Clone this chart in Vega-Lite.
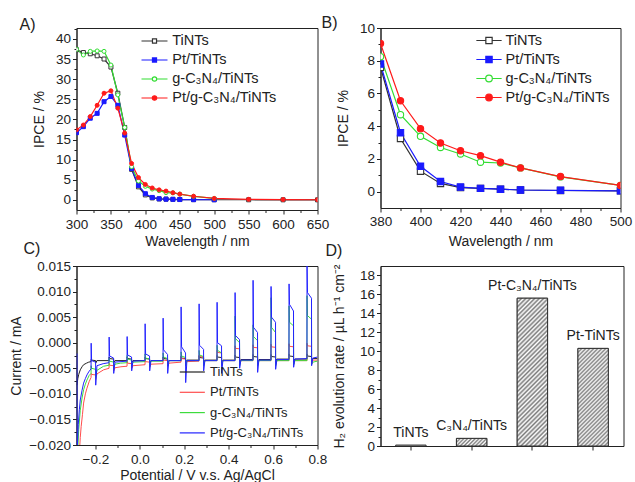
{
"$schema": "https://vega.github.io/schema/vega-lite/v6.json",
"background": "white",
"padding": {"left": 8.5, "top": 14, "right": 0, "bottom": 0},
"config": {
  "font": "Liberation Sans",
  "view": {"stroke": "#222", "strokeWidth": 1},
  "axis": {"domainColor": "#222", "tickColor": "#222", "labelColor": "#222", "titleColor": "#222", "labelFontSize": 13.5, "titleFontSize": 14, "titleFontWeight": "normal", "tickSize": 4, "labelPadding": 2, "grid": false, "labelFlush": false, "labelOverlap": false},
  "legend": {"labelFontSize": 14, "labelColor": "#222", "padding": 0, "rowPadding": 3},
  "title": {"fontSize": 16, "fontWeight": "normal", "color": "#222", "anchor": "start", "frame": "group"}
},
"datasets": {
  "ipce": [
    {"s":"T","w":300,"y":37.3},{"s":"T","w":310,"y":36.6},{"s":"T","w":320,"y":36.3},{"s":"T","w":330,"y":35.8},{"s":"T","w":340,"y":35.0},{"s":"T","w":350,"y":33.0},{"s":"T","w":360,"y":26.5},{"s":"T","w":370,"y":18.0},{"s":"T","w":380,"y":7.6},{"s":"T","w":390,"y":3.25},{"s":"T","w":400,"y":1.25},{"s":"T","w":410,"y":0.5},{"s":"T","w":420,"y":0.25},{"s":"T","w":430,"y":0.2},{"s":"T","w":440,"y":0.15},{"s":"T","w":450,"y":0.1},{"s":"T","w":470,"y":0.07},{"s":"T","w":500,"y":0.05},{"s":"T","w":550,"y":0.04},{"s":"T","w":600,"y":0.03},{"s":"T","w":650,"y":0.02},
    {"s":"P","w":300,"y":16.7},{"s":"P","w":310,"y":18.2},{"s":"P","w":320,"y":20.3},{"s":"P","w":330,"y":21.5},{"s":"P","w":340,"y":24.4},{"s":"P","w":350,"y":25.7},{"s":"P","w":360,"y":23.5},{"s":"P","w":370,"y":16.1},{"s":"P","w":380,"y":7.8},{"s":"P","w":390,"y":3.6},{"s":"P","w":400,"y":1.55},{"s":"P","w":410,"y":0.62},{"s":"P","w":420,"y":0.28},{"s":"P","w":430,"y":0.2},{"s":"P","w":440,"y":0.15},{"s":"P","w":450,"y":0.1},{"s":"P","w":470,"y":0.08},{"s":"P","w":500,"y":0.05},
    {"s":"G","w":300,"y":37.4},{"s":"G","w":310,"y":36.0},{"s":"G","w":320,"y":36.9},{"s":"G","w":330,"y":37.0},{"s":"G","w":340,"y":36.9},{"s":"G","w":350,"y":33.5},{"s":"G","w":360,"y":26.1},{"s":"G","w":370,"y":18.0},{"s":"G","w":380,"y":8.25},{"s":"G","w":390,"y":4.7},{"s":"G","w":400,"y":3.38},{"s":"G","w":410,"y":2.7},{"s":"G","w":420,"y":2.3},{"s":"G","w":430,"y":1.8},{"s":"G","w":440,"y":1.75},{"s":"G","w":450,"y":1.45},{"s":"G","w":470,"y":0.9},{"s":"G","w":500,"y":0.38},
    {"s":"PG","w":300,"y":17.4},{"s":"PG","w":310,"y":18.6},{"s":"PG","w":320,"y":20.7},{"s":"PG","w":330,"y":23.5},{"s":"PG","w":340,"y":26.5},{"s":"PG","w":350,"y":27.1},{"s":"PG","w":360,"y":22.8},{"s":"PG","w":370,"y":16.6},{"s":"PG","w":380,"y":9.05},{"s":"PG","w":390,"y":5.55},{"s":"PG","w":400,"y":3.85},{"s":"PG","w":410,"y":2.97},{"s":"PG","w":420,"y":2.5},{"s":"PG","w":430,"y":2.2},{"s":"PG","w":440,"y":1.8},{"s":"PG","w":450,"y":1.45},{"s":"PG","w":470,"y":0.92},{"s":"PG","w":500,"y":0.38},{"s":"PG","w":550,"y":0.15},{"s":"PG","w":600,"y":0.1},{"s":"PG","w":650,"y":0.05}
  ],
  "cur": [
    {"s":"T","v":-0.283,"c":-0.0083},{"s":"T","v":-0.279,"c":-0.007},{"s":"T","v":-0.275,"c":-0.0062},{"s":"T","v":-0.268,"c":-0.0053},{"s":"T","v":-0.26,"c":-0.0047},{"s":"T","v":-0.253,"c":-0.0043},{"s":"T","v":-0.24,"c":-0.004},{"s":"T","v":-0.23,"c":-0.0038},
    {"s":"T","v":-0.2195,"c":-0.0037},{"s":"T","v":-0.219,"c":-0.0033},{"s":"T","v":-0.217,"c":-0.0034},{"s":"T","v":-0.199,"c":-0.0035},{"s":"T","v":-0.1985,"c":-0.004},{"s":"T","v":-0.193,"c":-0.0035},
    {"s":"T","v":-0.1385,"c":-0.0035},{"s":"T","v":-0.138,"c":-0.0028},{"s":"T","v":-0.136,"c":-0.0031},{"s":"T","v":-0.118,"c":-0.0032},{"s":"T","v":-0.1175,"c":-0.0039},{"s":"T","v":-0.112,"c":-0.0035},
    {"s":"T","v":-0.0575,"c":-0.0035},{"s":"T","v":-0.057,"c":-0.0028},{"s":"T","v":-0.055,"c":-0.0031},{"s":"T","v":-0.037,"c":-0.0032},{"s":"T","v":-0.0365,"c":-0.0039},{"s":"T","v":-0.031,"c":-0.0035},
    {"s":"T","v":0.0235,"c":-0.0035},{"s":"T","v":0.024,"c":-0.0028},{"s":"T","v":0.026,"c":-0.0031},{"s":"T","v":0.044,"c":-0.0032},{"s":"T","v":0.0445,"c":-0.0039},{"s":"T","v":0.05,"c":-0.0035},
    {"s":"T","v":0.1045,"c":-0.0035},{"s":"T","v":0.105,"c":-0.0028},{"s":"T","v":0.107,"c":-0.0031},{"s":"T","v":0.125,"c":-0.0032},{"s":"T","v":0.1255,"c":-0.0039},{"s":"T","v":0.131,"c":-0.0035},
    {"s":"T","v":0.1855,"c":-0.0035},{"s":"T","v":0.186,"c":-0.0027},{"s":"T","v":0.188,"c":-0.003},{"s":"T","v":0.206,"c":-0.0031},{"s":"T","v":0.2065,"c":-0.0039},{"s":"T","v":0.212,"c":-0.0034},
    {"s":"T","v":0.2665,"c":-0.0034},{"s":"T","v":0.267,"c":-0.0026},{"s":"T","v":0.269,"c":-0.0029},{"s":"T","v":0.287,"c":-0.003},{"s":"T","v":0.2875,"c":-0.0038},{"s":"T","v":0.293,"c":-0.0034},
    {"s":"T","v":0.3475,"c":-0.0034},{"s":"T","v":0.348,"c":-0.0025},{"s":"T","v":0.35,"c":-0.0028},{"s":"T","v":0.368,"c":-0.0029},{"s":"T","v":0.3685,"c":-0.0038},{"s":"T","v":0.374,"c":-0.0034},
    {"s":"T","v":0.4285,"c":-0.0034},{"s":"T","v":0.429,"c":-0.0024},{"s":"T","v":0.431,"c":-0.0028},{"s":"T","v":0.449,"c":-0.0029},{"s":"T","v":0.4495,"c":-0.0037},{"s":"T","v":0.455,"c":-0.0033},
    {"s":"T","v":0.5095,"c":-0.0033},{"s":"T","v":0.51,"c":-0.0023},{"s":"T","v":0.512,"c":-0.0027},{"s":"T","v":0.53,"c":-0.0028},{"s":"T","v":0.5305,"c":-0.0037},{"s":"T","v":0.536,"c":-0.0033},
    {"s":"T","v":0.5905,"c":-0.0033},{"s":"T","v":0.591,"c":-0.0023},{"s":"T","v":0.593,"c":-0.0027},{"s":"T","v":0.611,"c":-0.0028},{"s":"T","v":0.6115,"c":-0.0036},{"s":"T","v":0.617,"c":-0.0032},
    {"s":"T","v":0.6715,"c":-0.0032},{"s":"T","v":0.672,"c":-0.0022},{"s":"T","v":0.674,"c":-0.0026},{"s":"T","v":0.692,"c":-0.0027},{"s":"T","v":0.6925,"c":-0.0036},{"s":"T","v":0.698,"c":-0.0032},
    {"s":"T","v":0.7525,"c":-0.0032},{"s":"T","v":0.753,"c":-0.0022},{"s":"T","v":0.755,"c":-0.0026},{"s":"T","v":0.773,"c":-0.0027},{"s":"T","v":0.7735,"c":-0.0035},{"s":"T","v":0.779,"c":-0.0031},{"s":"T","v":0.8,"c":-0.0031},

    {"s":"P","v":-0.272,"c":-0.0215},{"s":"P","v":-0.268,"c":-0.0185},{"s":"P","v":-0.264,"c":-0.0164},{"s":"P","v":-0.258,"c":-0.014},{"s":"P","v":-0.253,"c":-0.0118},{"s":"P","v":-0.245,"c":-0.01},{"s":"P","v":-0.238,"c":-0.0089},{"s":"P","v":-0.228,"c":-0.0076},
    {"s":"P","v":-0.2195,"c":-0.0068},{"s":"P","v":-0.219,"c":-0.006},{"s":"P","v":-0.217,"c":-0.0062},{"s":"P","v":-0.199,"c":-0.0063},{"s":"P","v":-0.1985,"c":-0.0072},{"s":"P","v":-0.193,"c":-0.0061},{"s":"P","v":-0.163,"c":-0.0053},
    {"s":"P","v":-0.1385,"c":-0.005},{"s":"P","v":-0.138,"c":-0.004},{"s":"P","v":-0.136,"c":-0.0044},{"s":"P","v":-0.118,"c":-0.0045},{"s":"P","v":-0.1175,"c":-0.0055},{"s":"P","v":-0.112,"c":-0.0049},{"s":"P","v":-0.085,"c":-0.0047},
    {"s":"P","v":-0.0575,"c":-0.0046},{"s":"P","v":-0.057,"c":-0.0036},{"s":"P","v":-0.055,"c":-0.004},{"s":"P","v":-0.037,"c":-0.0041},{"s":"P","v":-0.0365,"c":-0.005},{"s":"P","v":-0.031,"c":-0.0045},
    {"s":"P","v":0.0235,"c":-0.0043},{"s":"P","v":0.024,"c":-0.0033},{"s":"P","v":0.026,"c":-0.0037},{"s":"P","v":0.044,"c":-0.0038},{"s":"P","v":0.0445,"c":-0.0048},{"s":"P","v":0.05,"c":-0.0042},
    {"s":"P","v":0.1045,"c":-0.0041},{"s":"P","v":0.105,"c":-0.003},{"s":"P","v":0.107,"c":-0.0034},{"s":"P","v":0.125,"c":-0.0035},{"s":"P","v":0.1255,"c":-0.0046},{"s":"P","v":0.131,"c":-0.004},
    {"s":"P","v":0.1855,"c":-0.0038},{"s":"P","v":0.186,"c":-0.0027},{"s":"P","v":0.188,"c":-0.0031},{"s":"P","v":0.206,"c":-0.0032},{"s":"P","v":0.2065,"c":-0.0044},{"s":"P","v":0.212,"c":-0.0037},
    {"s":"P","v":0.2665,"c":-0.0036},{"s":"P","v":0.267,"c":-0.0024},{"s":"P","v":0.269,"c":-0.0027},{"s":"P","v":0.287,"c":-0.0028},{"s":"P","v":0.2875,"c":-0.0042},{"s":"P","v":0.293,"c":-0.0035},
    {"s":"P","v":0.3475,"c":-0.0035},{"s":"P","v":0.348,"c":-0.0015},{"s":"P","v":0.35,"c":-0.0019},{"s":"P","v":0.368,"c":-0.002},{"s":"P","v":0.3685,"c":-0.0042},{"s":"P","v":0.374,"c":-0.0035},
    {"s":"P","v":0.4285,"c":-0.0035},{"s":"P","v":0.429,"c":-0.0006},{"s":"P","v":0.431,"c":-0.0011},{"s":"P","v":0.449,"c":-0.0012},{"s":"P","v":0.4495,"c":-0.0042},{"s":"P","v":0.455,"c":-0.0035},
    {"s":"P","v":0.5095,"c":-0.0035},{"s":"P","v":0.51,"c":-0.0004},{"s":"P","v":0.512,"c":-0.0009},{"s":"P","v":0.53,"c":-0.001},{"s":"P","v":0.5305,"c":-0.0042},{"s":"P","v":0.536,"c":-0.0035},
    {"s":"P","v":0.5905,"c":-0.0035},{"s":"P","v":0.591,"c":-0.0003},{"s":"P","v":0.593,"c":-0.0008},{"s":"P","v":0.611,"c":-0.0009},{"s":"P","v":0.6115,"c":-0.0042},{"s":"P","v":0.617,"c":-0.0035},
    {"s":"P","v":0.6715,"c":-0.0035},{"s":"P","v":0.672,"c":-0.0002},{"s":"P","v":0.674,"c":-0.0007},{"s":"P","v":0.692,"c":-0.0008},{"s":"P","v":0.6925,"c":-0.0042},{"s":"P","v":0.698,"c":-0.0035},
    {"s":"P","v":0.7525,"c":-0.0035},{"s":"P","v":0.753,"c":-0.0001},{"s":"P","v":0.755,"c":-0.0006},{"s":"P","v":0.773,"c":-0.0007},{"s":"P","v":0.7735,"c":-0.0042},{"s":"P","v":0.779,"c":-0.0034},{"s":"P","v":0.8,"c":-0.0034},

    {"s":"G","v":-0.28,"c":-0.0215},{"s":"G","v":-0.275,"c":-0.017},{"s":"G","v":-0.268,"c":-0.0132},{"s":"G","v":-0.26,"c":-0.0108},{"s":"G","v":-0.253,"c":-0.0092},{"s":"G","v":-0.245,"c":-0.0081},{"s":"G","v":-0.238,"c":-0.0073},{"s":"G","v":-0.228,"c":-0.0064},
    {"s":"G","v":-0.2195,"c":-0.006},{"s":"G","v":-0.219,"c":-0.0045},{"s":"G","v":-0.217,"c":-0.005},{"s":"G","v":-0.199,"c":-0.0052},{"s":"G","v":-0.1985,"c":-0.0068},{"s":"G","v":-0.193,"c":-0.0054},{"s":"G","v":-0.163,"c":-0.0046},
    {"s":"G","v":-0.1385,"c":-0.0044},{"s":"G","v":-0.138,"c":-0.003},{"s":"G","v":-0.136,"c":-0.0036},{"s":"G","v":-0.118,"c":-0.0038},{"s":"G","v":-0.1175,"c":-0.005},{"s":"G","v":-0.112,"c":-0.0042},{"s":"G","v":-0.087,"c":-0.004},
    {"s":"G","v":-0.0575,"c":-0.0039},{"s":"G","v":-0.057,"c":-0.0025},{"s":"G","v":-0.055,"c":-0.0032},{"s":"G","v":-0.037,"c":-0.0034},{"s":"G","v":-0.0365,"c":-0.0046},{"s":"G","v":-0.031,"c":-0.0038},
    {"s":"G","v":0.0235,"c":-0.0037},{"s":"G","v":0.024,"c":-0.0022},{"s":"G","v":0.026,"c":-0.003},{"s":"G","v":0.044,"c":-0.0032},{"s":"G","v":0.0445,"c":-0.0045},{"s":"G","v":0.05,"c":-0.0036},
    {"s":"G","v":0.1045,"c":-0.0036},{"s":"G","v":0.105,"c":-0.002},{"s":"G","v":0.107,"c":-0.0028},{"s":"G","v":0.125,"c":-0.0031},{"s":"G","v":0.1255,"c":-0.0045},{"s":"G","v":0.131,"c":-0.0035},
    {"s":"G","v":0.1855,"c":-0.0035},{"s":"G","v":0.186,"c":-0.0018},{"s":"G","v":0.188,"c":-0.0026},{"s":"G","v":0.206,"c":-0.0029},{"s":"G","v":0.2065,"c":-0.0045},{"s":"G","v":0.212,"c":-0.0035},
    {"s":"G","v":0.2665,"c":-0.0035},{"s":"G","v":0.267,"c":-0.0015},{"s":"G","v":0.269,"c":-0.0024},{"s":"G","v":0.287,"c":-0.0027},{"s":"G","v":0.2875,"c":-0.0045},{"s":"G","v":0.293,"c":-0.0035},
    {"s":"G","v":0.3475,"c":-0.0035},{"s":"G","v":0.348,"c":-0.0005},{"s":"G","v":0.35,"c":-0.0015},{"s":"G","v":0.368,"c":-0.002},{"s":"G","v":0.3685,"c":-0.0045},{"s":"G","v":0.374,"c":-0.0035},
    {"s":"G","v":0.4285,"c":-0.0035},{"s":"G","v":0.429,"c":0.0052},{"s":"G","v":0.431,"c":0.0008},{"s":"G","v":0.449,"c":0.0},{"s":"G","v":0.4495,"c":-0.0045},{"s":"G","v":0.455,"c":-0.0035},
    {"s":"G","v":0.5095,"c":-0.0035},{"s":"G","v":0.51,"c":0.0035},{"s":"G","v":0.512,"c":0.0012},{"s":"G","v":0.53,"c":0.0004},{"s":"G","v":0.5305,"c":-0.0045},{"s":"G","v":0.536,"c":-0.0035},
    {"s":"G","v":0.5905,"c":-0.0035},{"s":"G","v":0.591,"c":0.0088},{"s":"G","v":0.593,"c":0.003},{"s":"G","v":0.611,"c":0.002},{"s":"G","v":0.6115,"c":-0.0045},{"s":"G","v":0.617,"c":-0.0035},
    {"s":"G","v":0.6715,"c":-0.0035},{"s":"G","v":0.672,"c":0.0072},{"s":"G","v":0.674,"c":0.004},{"s":"G","v":0.692,"c":0.0033},{"s":"G","v":0.6925,"c":-0.0043},{"s":"G","v":0.698,"c":-0.0035},
    {"s":"G","v":0.7525,"c":-0.0035},{"s":"G","v":0.753,"c":0.0092},{"s":"G","v":0.755,"c":0.0053},{"s":"G","v":0.773,"c":0.0046},{"s":"G","v":0.7735,"c":-0.0042},{"s":"G","v":0.779,"c":-0.0038},{"s":"G","v":0.8,"c":-0.0036},

    {"s":"PG","v":-0.283,"c":-0.0021},{"s":"PG","v":-0.2825,"c":-0.0215},{"s":"PG","v":-0.277,"c":-0.016},{"s":"PG","v":-0.272,"c":-0.013},{"s":"PG","v":-0.268,"c":-0.0112},{"s":"PG","v":-0.26,"c":-0.0093},{"s":"PG","v":-0.253,"c":-0.0079},{"s":"PG","v":-0.245,"c":-0.007},{"s":"PG","v":-0.238,"c":-0.0063},{"s":"PG","v":-0.23,"c":-0.0057},
    {"s":"PG","v":-0.2195,"c":-0.0051},{"s":"PG","v":-0.219,"c":-0.0001},{"s":"PG","v":-0.217,"c":-0.0035},{"s":"PG","v":-0.199,"c":-0.0038},{"s":"PG","v":-0.1985,"c":-0.0083},{"s":"PG","v":-0.193,"c":-0.0045},{"s":"PG","v":-0.165,"c":-0.0041},
    {"s":"PG","v":-0.1385,"c":-0.0039},{"s":"PG","v":-0.138,"c":0.0011},{"s":"PG","v":-0.136,"c":-0.0026},{"s":"PG","v":-0.118,"c":-0.003},{"s":"PG","v":-0.1175,"c":-0.006},{"s":"PG","v":-0.112,"c":-0.0038},
    {"s":"PG","v":-0.0575,"c":-0.0036},{"s":"PG","v":-0.057,"c":0.0012},{"s":"PG","v":-0.055,"c":-0.0024},{"s":"PG","v":-0.037,"c":-0.0028},{"s":"PG","v":-0.0365,"c":-0.0055},{"s":"PG","v":-0.031,"c":-0.0036},
    {"s":"PG","v":0.0235,"c":-0.0035},{"s":"PG","v":0.024,"c":0.0037},{"s":"PG","v":0.026,"c":-0.0022},{"s":"PG","v":0.044,"c":-0.0026},{"s":"PG","v":0.0445,"c":-0.0055},{"s":"PG","v":0.05,"c":-0.0035},
    {"s":"PG","v":0.1045,"c":-0.0035},{"s":"PG","v":0.105,"c":0.0048},{"s":"PG","v":0.107,"c":-0.0014},{"s":"PG","v":0.125,"c":-0.0023},{"s":"PG","v":0.1255,"c":-0.006},{"s":"PG","v":0.131,"c":-0.0035},
    {"s":"PG","v":0.1855,"c":-0.0035},{"s":"PG","v":0.186,"c":0.007},{"s":"PG","v":0.188,"c":-0.0008},{"s":"PG","v":0.206,"c":-0.002},{"s":"PG","v":0.2065,"c":-0.0078},{"s":"PG","v":0.212,"c":-0.0035},
    {"s":"PG","v":0.2665,"c":-0.0035},{"s":"PG","v":0.267,"c":0.0076},{"s":"PG","v":0.269,"c":-0.0005},{"s":"PG","v":0.287,"c":-0.0013},{"s":"PG","v":0.2875,"c":-0.0055},{"s":"PG","v":0.293,"c":-0.0035},
    {"s":"PG","v":0.3475,"c":-0.0035},{"s":"PG","v":0.348,"c":0.0079},{"s":"PG","v":0.35,"c":0.0},{"s":"PG","v":0.368,"c":-0.0006},{"s":"PG","v":0.3685,"c":-0.006},{"s":"PG","v":0.374,"c":-0.0035},
    {"s":"PG","v":0.4285,"c":-0.0035},{"s":"PG","v":0.429,"c":0.0098},{"s":"PG","v":0.431,"c":0.0014},{"s":"PG","v":0.449,"c":0.0006},{"s":"PG","v":0.4495,"c":-0.005},{"s":"PG","v":0.455,"c":-0.0034},
    {"s":"PG","v":0.5095,"c":-0.0034},{"s":"PG","v":0.51,"c":0.0122},{"s":"PG","v":0.512,"c":0.003},{"s":"PG","v":0.53,"c":0.002},{"s":"PG","v":0.5305,"c":-0.0058},{"s":"PG","v":0.536,"c":-0.0034},
    {"s":"PG","v":0.5905,"c":-0.0034},{"s":"PG","v":0.591,"c":0.011},{"s":"PG","v":0.593,"c":0.005},{"s":"PG","v":0.611,"c":0.004},{"s":"PG","v":0.6115,"c":-0.0052},{"s":"PG","v":0.617,"c":-0.0033},
    {"s":"PG","v":0.6715,"c":-0.0033},{"s":"PG","v":0.672,"c":0.0115},{"s":"PG","v":0.674,"c":0.0075},{"s":"PG","v":0.692,"c":0.0062},{"s":"PG","v":0.6925,"c":-0.0048},{"s":"PG","v":0.698,"c":-0.0032},
    {"s":"PG","v":0.7525,"c":-0.0031},{"s":"PG","v":0.753,"c":0.015},{"s":"PG","v":0.755,"c":0.0098},{"s":"PG","v":0.773,"c":0.0087},{"s":"PG","v":0.7735,"c":-0.0045},{"s":"PG","v":0.779,"c":-0.003},{"s":"PG","v":0.8,"c":-0.0028}
  ],
  "h2": [
    {"cat":"TiNTs","rate":0.1},{"cat":"C₃N₄/TiNTs","rate":0.8},{"cat":"Pt-C₃N₄/TiNTs","rate":15.6},{"cat":"Pt-TiNTs","rate":10.3}
  ]
},
"columns": 2,
"bounds": "flush",
"spacing": {"row": 56, "column": 63},
"resolve": {"scale": {"color": "independent", "stroke": "independent", "fill": "independent", "shape": "independent"}, "legend": {"stroke": "independent", "color": "independent"}},
"concat": [
  {
    "width": 241, "height": 182,
    "title": {"text": "A)", "dx": -57, "offset": -27, "baseline": "bottom"},
    "data": {"name": "ipce"},
    "encoding": {
      "x": {"field": "w", "type": "quantitative", "scale": {"domain": [300, 650], "nice": false, "zero": false},
        "axis": {"title": "Wavelength / nm", "values": [300,325,350,375,400,425,450,475,500,525,550,575,600,625,650], "labelExpr": "datum.value % 50 == 0 ? datum.label : ''", "labelPadding": 3, "titleY": 31, "titleBaseline": "middle",
          "encoding": {"ticks": {"y2": {"value": {"expr": "datum.value % 50 == 0 ? 4 : 2.5"}}}}}},
      "y": {"field": "y", "type": "quantitative", "scale": {"domain": [-2.5, 42.7], "nice": false, "zero": false},
        "axis": {"title": "IPCE / %", "values": [0,2.5,5,7.5,10,12.5,15,17.5,20,22.5,25,27.5,30,32.5,35,37.5,40,42.5], "labelExpr": "datum.value % 5 == 0 ? datum.label : ''", "titleX": -37, "titleBaseline": "middle",
          "encoding": {"ticks": {"x2": {"value": {"expr": "datum.value % 5 == 0 ? -4 : -2.5"}}}}}}
    },
    "layer": [
      {"mark": {"type": "line", "strokeWidth": 1.2, "clip": true},
       "encoding": {"color": {"field": "s", "type": "nominal", "sort": ["T","P","G","PG"], "scale": {"range": ["#333333","#1a1aff","#33dd33","#ff1a1a"]}, "legend": null}}},
      {"mark": {"type": "point", "size": 16, "strokeWidth": 1, "opacity": 1, "clip": true},
       "encoding": {
         "stroke": {"field": "s", "type": "nominal", "sort": ["T","P","G","PG"], "scale": {"range": ["#333333","#1a1aff","#33dd33","#ff1a1a"]},
           "legend": {"title": null, "orient": "none", "legendX": 69, "legendY": 4, "symbolSize": 264, "labelOffset": 8.75, "symbolStrokeWidth": 1.2, "labelFontSize": 14.5,
             "labelExpr": "datum.label == 'T' ? 'TiNTs' : datum.label == 'P' ? 'Pt/TiNTs' : datum.label == 'G' ? 'g-C₃N₄/TiNTs' : 'Pt/g-C₃N₄/TiNTs'",
             "encoding": {"symbols": {
               "shape": {"value": {"expr": "datum.value == 'T' || datum.value == 'P' ? 'M-1.6,0H-0.25M0.25,0H1.6M-0.25,-0.25H0.25V0.25H-0.25Z' : 'M-1.6,0H-0.27M0.27,0H1.6M-0.27,0A0.27,0.27,0,1,1,0.27,0A0.27,0.27,0,1,1,-0.27,0Z'"}},
               "fill": {"value": {"expr": "datum.value == 'P' ? '#1a1aff' : datum.value == 'PG' ? '#ff1a1a' : '#ffffff'"}}}}}},
         "fill": {"field": "s", "type": "nominal", "sort": ["T","P","G","PG"], "scale": {"range": ["#ffffff","#1a1aff","#ffffff","#ff1a1a"]}, "legend": null},
         "shape": {"field": "s", "type": "nominal", "sort": ["T","P","G","PG"], "scale": {"range": ["square","square","circle","circle"]}, "legend": null}
       }}
    ]
  },
  {
    "width": 240, "height": 180,
    "title": {"text": "B)", "dx": -59, "offset": -26, "baseline": "bottom"},
    "data": {"name": "ipce"},
    "transform": [{"filter": "datum.w >= 380 && datum.w <= 500"}],
    "encoding": {
      "x": {"field": "w", "type": "quantitative", "scale": {"domain": [380, 500], "nice": false, "zero": false},
        "axis": {"title": "Wavelength / nm", "values": [380,390,400,410,420,430,440,450,460,470,480,490,500], "labelExpr": "datum.value % 20 == 0 ? datum.label : ''", "labelPadding": 2, "titleY": 33, "titleBaseline": "middle",
          "encoding": {"ticks": {"y2": {"value": {"expr": "datum.value % 20 == 0 ? 4 : 2.5"}}}}}},
      "y": {"field": "y", "type": "quantitative", "scale": {"domain": [-1, 10], "nice": false, "zero": false},
        "axis": {"title": "IPCE / %", "values": [0,1,2,3,4,5,6,7,8,9,10], "labelExpr": "datum.value % 2 == 0 ? datum.label : ''", "titleX": -37, "titleBaseline": "middle",
          "encoding": {"ticks": {"x2": {"value": {"expr": "datum.value % 2 == 0 ? -4 : -2.5"}}}}}}
    },
    "layer": [
      {"mark": {"type": "line", "strokeWidth": 1.2, "clip": true},
       "encoding": {"color": {"field": "s", "type": "nominal", "sort": ["T","P","G","PG"], "scale": {"range": ["#333333","#1a1aff","#33dd33","#ff1a1a"]}, "legend": null}}},
      {"mark": {"type": "point", "size": 40, "strokeWidth": 1.1, "opacity": 1, "clip": true},
       "encoding": {
         "stroke": {"field": "s", "type": "nominal", "sort": ["T","P","G","PG"], "scale": {"range": ["#333333","#1a1aff","#33dd33","#ff1a1a"]},
           "legend": {"title": null, "orient": "none", "legendX": 99.5, "legendY": 3.5, "symbolSize": 250, "labelOffset": 7.5, "symbolStrokeWidth": 1.2, "labelFontSize": 14.5,
             "labelExpr": "datum.label == 'T' ? 'TiNTs' : datum.label == 'P' ? 'Pt/TiNTs' : datum.label == 'G' ? 'g-C₃N₄/TiNTs' : 'Pt/g-C₃N₄/TiNTs'",
             "encoding": {"symbols": {
               "shape": {"value": {"expr": "datum.value == 'T' || datum.value == 'P' ? 'M-1.6,0H-0.4M0.4,0H1.6M-0.4,-0.4H0.4V0.4H-0.4Z' : 'M-1.6,0H-0.42M0.42,0H1.6M-0.42,0A0.42,0.42,0,1,1,0.42,0A0.42,0.42,0,1,1,-0.42,0Z'"}},
               "fill": {"value": {"expr": "datum.value == 'P' ? '#1a1aff' : datum.value == 'PG' ? '#ff1a1a' : '#ffffff'"}}}}}},
         "fill": {"field": "s", "type": "nominal", "sort": ["T","P","G","PG"], "scale": {"range": ["#ffffff","#1a1aff","#ffffff","#ff1a1a"]}, "legend": null},
         "shape": {"field": "s", "type": "nominal", "sort": ["T","P","G","PG"], "scale": {"range": ["square","square","circle","circle"]}, "legend": null}
       }}
    ]
  },
  {
    "width": 241, "height": 179,
    "title": {"text": "C)", "dx": -53, "offset": -14, "baseline": "bottom"},
    "data": {"name": "cur"},
    "mark": {"type": "line", "strokeWidth": 1, "clip": true},
    "encoding": {
      "x": {"field": "v", "type": "quantitative", "scale": {"domain": [-0.285, 0.8], "nice": false, "zero": false},
        "axis": {"title": "Potential / V v.s. Ag/AgCl", "format": ".1f", "values": [-0.2,-0.1,0,0.1,0.2,0.3,0.4,0.5,0.6,0.7,0.8], "labelExpr": "abs(round(datum.value*10)) % 2 == 0 ? datum.label : ''", "labelPadding": 3, "titleY": 30, "titleBaseline": "middle",
          "encoding": {"ticks": {"y2": {"value": {"expr": "abs(round(datum.value*10)) % 2 == 0 ? 4 : 2.5"}}}}}},
      "y": {"field": "c", "type": "quantitative", "scale": {"domain": [-0.02, 0.015], "nice": false, "zero": false},
        "axis": {"title": "Current / mA", "format": ".3f", "values": [-0.02,-0.0175,-0.015,-0.0125,-0.01,-0.0075,-0.005,-0.0025,0,0.0025,0.005,0.0075,0.01,0.0125,0.015], "labelExpr": "abs(round(datum.value*400)) % 2 == 0 ? datum.label : ''", "titleX": -60.5, "titleBaseline": "middle",
          "encoding": {"ticks": {"x2": {"value": {"expr": "abs(round(datum.value*400)) % 2 == 0 ? -4 : -2.5"}}}}}},
      "stroke": {"field": "s", "type": "nominal", "scale": {"domain": ["T","P","G","PG"], "range": ["#222222","#ff4d4d","#3ddc3d","#2222ff"]},
        "legend": {"title": null, "orient": "none", "legendX": 109.3, "legendY": 99.5, "symbolType": "M-3,0H3", "symbolSize": 70, "labelOffset": 11.3, "symbolStrokeWidth": 1.2, "labelFontSize": 13, "rowPadding": 6.3,
          "labelExpr": "datum.label == 'T' ? 'TiNTs' : datum.label == 'P' ? 'Pt/TiNTs' : datum.label == 'G' ? 'g-C₃N₄/TiNTs' : 'Pt/g-C₃N₄/TiNTs'"}}
    }
  },
  {
    "width": 243, "height": 180,
    "title": {"text": "D)", "dx": -55, "offset": -11, "baseline": "bottom"},
    "data": {"name": "h2"},
    "encoding": {
      "x": {"field": "cat", "type": "nominal", "sort": null, "scale": {"paddingInner": 0.5, "paddingOuter": 0.25}, "axis": {"title": null, "labels": false, "ticks": true, "tickSize": 4}},
      "y": {"field": "rate", "type": "quantitative", "scale": {"domain": [0, 19], "nice": false, "zero": false},
        "axis": {"title": "H₂ evolution rate / µL h⁻¹ cm⁻²", "values": [0,1,2,3,4,5,6,7,8,9,10,11,12,13,14,15,16,17,18], "labelExpr": "datum.value % 2 == 0 ? datum.label : ''", "titleX": -41, "titleBaseline": "middle",
          "encoding": {"ticks": {"x2": {"value": {"expr": "datum.value % 2 == 0 ? -4 : -2.5"}}}}}}
    },
    "layer": [
      {"mark": {"type": "bar", "fill": "#ffffff", "stroke": "#333333", "strokeWidth": 1}},
      {"transform": [{"filter": "datum.cat == 'Pt-C₃N₄/TiNTs'"}],
       "mark": {"type": "bar", "stroke": "#333333", "strokeWidth": 1, "fill": {"gradient": "linear", "x1": 0, "y1": 0, "x2": 0.238, "y2": 1.157, "stops": [
        {"offset":0,"color":"#7a7a7a"},{"offset":0.0125,"color":"#ffffff"},{"offset":0.025,"color":"#7a7a7a"},{"offset":0.0375,"color":"#ffffff"},{"offset":0.05,"color":"#7a7a7a"},{"offset":0.0625,"color":"#ffffff"},{"offset":0.075,"color":"#7a7a7a"},{"offset":0.0875,"color":"#ffffff"},
        {"offset":0.1,"color":"#7a7a7a"},{"offset":0.1125,"color":"#ffffff"},{"offset":0.125,"color":"#7a7a7a"},{"offset":0.1375,"color":"#ffffff"},{"offset":0.15,"color":"#7a7a7a"},{"offset":0.1625,"color":"#ffffff"},{"offset":0.175,"color":"#7a7a7a"},{"offset":0.1875,"color":"#ffffff"},
        {"offset":0.2,"color":"#7a7a7a"},{"offset":0.2125,"color":"#ffffff"},{"offset":0.225,"color":"#7a7a7a"},{"offset":0.2375,"color":"#ffffff"},{"offset":0.25,"color":"#7a7a7a"},{"offset":0.2625,"color":"#ffffff"},{"offset":0.275,"color":"#7a7a7a"},{"offset":0.2875,"color":"#ffffff"},
        {"offset":0.3,"color":"#7a7a7a"},{"offset":0.3125,"color":"#ffffff"},{"offset":0.325,"color":"#7a7a7a"},{"offset":0.3375,"color":"#ffffff"},{"offset":0.35,"color":"#7a7a7a"},{"offset":0.3625,"color":"#ffffff"},{"offset":0.375,"color":"#7a7a7a"},{"offset":0.3875,"color":"#ffffff"},
        {"offset":0.4,"color":"#7a7a7a"},{"offset":0.4125,"color":"#ffffff"},{"offset":0.425,"color":"#7a7a7a"},{"offset":0.4375,"color":"#ffffff"},{"offset":0.45,"color":"#7a7a7a"},{"offset":0.4625,"color":"#ffffff"},{"offset":0.475,"color":"#7a7a7a"},{"offset":0.4875,"color":"#ffffff"},
        {"offset":0.5,"color":"#7a7a7a"},{"offset":0.5125,"color":"#ffffff"},{"offset":0.525,"color":"#7a7a7a"},{"offset":0.5375,"color":"#ffffff"},{"offset":0.55,"color":"#7a7a7a"},{"offset":0.5625,"color":"#ffffff"},{"offset":0.575,"color":"#7a7a7a"},{"offset":0.5875,"color":"#ffffff"},
        {"offset":0.6,"color":"#7a7a7a"},{"offset":0.6125,"color":"#ffffff"},{"offset":0.625,"color":"#7a7a7a"},{"offset":0.6375,"color":"#ffffff"},{"offset":0.65,"color":"#7a7a7a"},{"offset":0.6625,"color":"#ffffff"},{"offset":0.675,"color":"#7a7a7a"},{"offset":0.6875,"color":"#ffffff"},
        {"offset":0.7,"color":"#7a7a7a"},{"offset":0.7125,"color":"#ffffff"},{"offset":0.725,"color":"#7a7a7a"},{"offset":0.7375,"color":"#ffffff"},{"offset":0.75,"color":"#7a7a7a"},{"offset":0.7625,"color":"#ffffff"},{"offset":0.775,"color":"#7a7a7a"},{"offset":0.7875,"color":"#ffffff"},
        {"offset":0.8,"color":"#7a7a7a"},{"offset":0.8125,"color":"#ffffff"},{"offset":0.825,"color":"#7a7a7a"},{"offset":0.8375,"color":"#ffffff"},{"offset":0.85,"color":"#7a7a7a"},{"offset":0.8625,"color":"#ffffff"},{"offset":0.875,"color":"#7a7a7a"},{"offset":0.8875,"color":"#ffffff"},
        {"offset":0.9,"color":"#7a7a7a"},{"offset":0.9125,"color":"#ffffff"},{"offset":0.925,"color":"#7a7a7a"},{"offset":0.9375,"color":"#ffffff"},{"offset":0.95,"color":"#7a7a7a"},{"offset":0.9625,"color":"#ffffff"},{"offset":0.975,"color":"#7a7a7a"},{"offset":0.9875,"color":"#ffffff"},
        {"offset":1,"color":"#7a7a7a"}]}}},
      {"transform": [{"filter": "datum.cat == 'Pt-TiNTs'"}],
       "mark": {"type": "bar", "stroke": "#333333", "strokeWidth": 1, "fill": {"gradient": "linear", "x1": 0, "y1": 0, "x2": 0.372, "y2": 1.196, "stops": [
        {"offset":0,"color":"#7a7a7a"},{"offset":0.015625,"color":"#ffffff"},{"offset":0.03125,"color":"#7a7a7a"},{"offset":0.046875,"color":"#ffffff"},{"offset":0.0625,"color":"#7a7a7a"},{"offset":0.078125,"color":"#ffffff"},{"offset":0.09375,"color":"#7a7a7a"},{"offset":0.109375,"color":"#ffffff"},
        {"offset":0.125,"color":"#7a7a7a"},{"offset":0.140625,"color":"#ffffff"},{"offset":0.15625,"color":"#7a7a7a"},{"offset":0.171875,"color":"#ffffff"},{"offset":0.1875,"color":"#7a7a7a"},{"offset":0.203125,"color":"#ffffff"},{"offset":0.21875,"color":"#7a7a7a"},{"offset":0.234375,"color":"#ffffff"},
        {"offset":0.25,"color":"#7a7a7a"},{"offset":0.265625,"color":"#ffffff"},{"offset":0.28125,"color":"#7a7a7a"},{"offset":0.296875,"color":"#ffffff"},{"offset":0.3125,"color":"#7a7a7a"},{"offset":0.328125,"color":"#ffffff"},{"offset":0.34375,"color":"#7a7a7a"},{"offset":0.359375,"color":"#ffffff"},
        {"offset":0.375,"color":"#7a7a7a"},{"offset":0.390625,"color":"#ffffff"},{"offset":0.40625,"color":"#7a7a7a"},{"offset":0.421875,"color":"#ffffff"},{"offset":0.4375,"color":"#7a7a7a"},{"offset":0.453125,"color":"#ffffff"},{"offset":0.46875,"color":"#7a7a7a"},{"offset":0.484375,"color":"#ffffff"},
        {"offset":0.5,"color":"#7a7a7a"},{"offset":0.515625,"color":"#ffffff"},{"offset":0.53125,"color":"#7a7a7a"},{"offset":0.546875,"color":"#ffffff"},{"offset":0.5625,"color":"#7a7a7a"},{"offset":0.578125,"color":"#ffffff"},{"offset":0.59375,"color":"#7a7a7a"},{"offset":0.609375,"color":"#ffffff"},
        {"offset":0.625,"color":"#7a7a7a"},{"offset":0.640625,"color":"#ffffff"},{"offset":0.65625,"color":"#7a7a7a"},{"offset":0.671875,"color":"#ffffff"},{"offset":0.6875,"color":"#7a7a7a"},{"offset":0.703125,"color":"#ffffff"},{"offset":0.71875,"color":"#7a7a7a"},{"offset":0.734375,"color":"#ffffff"},
        {"offset":0.75,"color":"#7a7a7a"},{"offset":0.765625,"color":"#ffffff"},{"offset":0.78125,"color":"#7a7a7a"},{"offset":0.796875,"color":"#ffffff"},{"offset":0.8125,"color":"#7a7a7a"},{"offset":0.828125,"color":"#ffffff"},{"offset":0.84375,"color":"#7a7a7a"},{"offset":0.859375,"color":"#ffffff"},
        {"offset":0.875,"color":"#7a7a7a"},{"offset":0.890625,"color":"#ffffff"},{"offset":0.90625,"color":"#7a7a7a"},{"offset":0.921875,"color":"#ffffff"},{"offset":0.9375,"color":"#7a7a7a"},{"offset":0.953125,"color":"#ffffff"},{"offset":0.96875,"color":"#7a7a7a"},{"offset":0.984375,"color":"#ffffff"},
        {"offset":1,"color":"#7a7a7a"}]}}},
      {"transform": [{"filter": "datum.cat == 'C₃N₄/TiNTs'"}],
       "mark": {"type": "bar", "stroke": "#333333", "strokeWidth": 1, "fill": {"gradient": "linear", "x1": 0, "y1": 0, "x2": 1.176, "y2": 0.293, "stops": [
        {"offset":0,"color":"#7a7a7a"},{"offset":0.05,"color":"#ffffff"},{"offset":0.1,"color":"#7a7a7a"},{"offset":0.15,"color":"#ffffff"},{"offset":0.2,"color":"#7a7a7a"},{"offset":0.25,"color":"#ffffff"},{"offset":0.3,"color":"#7a7a7a"},{"offset":0.35,"color":"#ffffff"},
        {"offset":0.4,"color":"#7a7a7a"},{"offset":0.45,"color":"#ffffff"},{"offset":0.5,"color":"#7a7a7a"},{"offset":0.55,"color":"#ffffff"},{"offset":0.6,"color":"#7a7a7a"},{"offset":0.65,"color":"#ffffff"},{"offset":0.7,"color":"#7a7a7a"},{"offset":0.75,"color":"#ffffff"},
        {"offset":0.8,"color":"#7a7a7a"},{"offset":0.85,"color":"#ffffff"},{"offset":0.9,"color":"#7a7a7a"},{"offset":0.95,"color":"#ffffff"},{"offset":1,"color":"#7a7a7a"}]}}},
      {"mark": {"type": "text", "baseline": "alphabetic", "dy": -8, "fontSize": 14, "color": "#222"}, "encoding": {"text": {"field": "cat"}}}
    ]
  }
]
}
